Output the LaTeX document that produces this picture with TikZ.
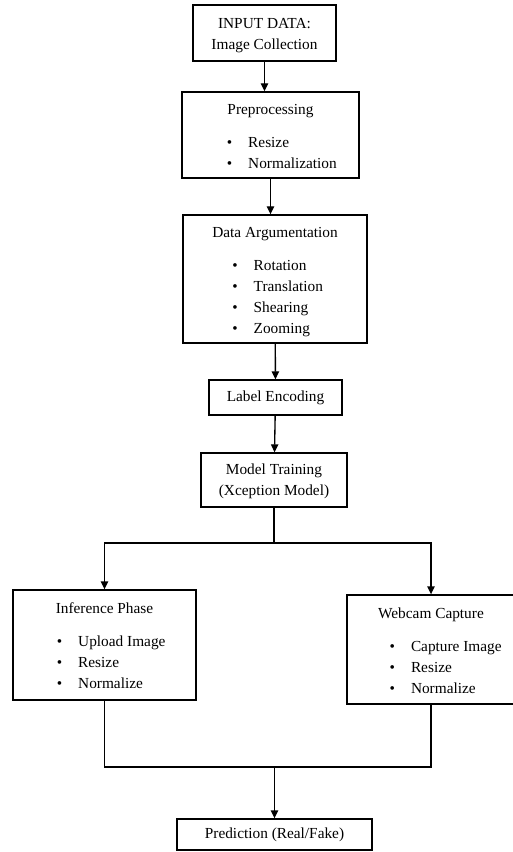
\documentclass[tikz,border=0pt]{standalone}
\usepackage{fontspec}
\setmainfont{Liberation Serif}
\usepackage{tikz}
\usetikzlibrary{arrows.meta}
\newcommand{\bulletlist}[2]{\hspace*{#1}\begin{tabular}[t]{@{}l@{\hspace{12pt}}l@{}}#2\end{tabular}}
\newcommand{\toplift}{\rule{0pt}{14pt}}

\begin{document}
\begin{tikzpicture}[x=0.75pt, y=-0.75pt, line width=1pt,
  >={Triangle[length=6pt,width=5.5pt]},
  box/.style={rectangle, draw, inner sep=0pt, align=center,
    font=\fontsize{11.5}{15.75}\selectfont}]
\useasboundingbox (0,0) rectangle (513,852);
% Flow diagram
\node[box, minimum width=107.25pt, minimum height=42pt] (input) at (264.5,33) {\rule{0pt}{12pt}INPUT DATA:\\Image Collection};
\node[box, minimum width=132.75pt, minimum height=64.5pt] (prep) at (270.5,135) {\toplift Preprocessing\\[9pt]\bulletlist{17pt}{\textbullet & Resize\\ \textbullet & Normalization}};
\node[box, minimum width=138pt, minimum height=96pt] (aug) at (275,279) {\toplift Data Argumentation\\[9pt]\bulletlist{4pt}{\textbullet & Rotation\\ \textbullet & Translation\\ \textbullet & Shearing\\ \textbullet & Zooming}};
\node[box, minimum width=99.75pt, minimum height=26.25pt] (label) at (275.5,397.5) {Label Encoding};
\node[box, minimum width=109.5pt, minimum height=40.5pt] (model) at (274,480) {\rule{0pt}{10pt}Model Training\\(Xception Model)};
\node[box, minimum width=137.25pt, minimum height=82.5pt] (infer) at (104.5,645) {\toplift Inference Phase\\[9pt]\bulletlist{10pt}{\textbullet & Upload Image\\ \textbullet & Resize\\ \textbullet & Normalize}};
\node[box, minimum width=126pt, minimum height=81.75pt] (webcam) at (431,649.5) {\toplift Webcam Capture\\[9pt]\bulletlist{22pt}{\textbullet & Capture Image\\ \textbullet & Resize\\ \textbullet & Normalize}};
\node[box, minimum width=146.25pt, minimum height=23.25pt] (pred) at (274.5,834.5) {Prediction (Real/Fake)};

% branch points
\coordinate (split) at (274,543);
\coordinate (join) at (274.5,767);

\draw[->] (input.south) -- (input.south |- prep.north);
\draw[->] (prep.south) -- (prep.south |- aug.north);
\draw[->] (aug) -- (label);
\draw[->] (label) -- (model);
\draw (model.south) -- (split);
\draw[->] (split) -| (infer.north);
\draw[->] (split) -| (webcam.north);
\draw (infer.south) |- (join);
\draw (webcam.south) |- (join);
\draw[->] (join) -- (pred);
\end{tikzpicture}
\end{document}
